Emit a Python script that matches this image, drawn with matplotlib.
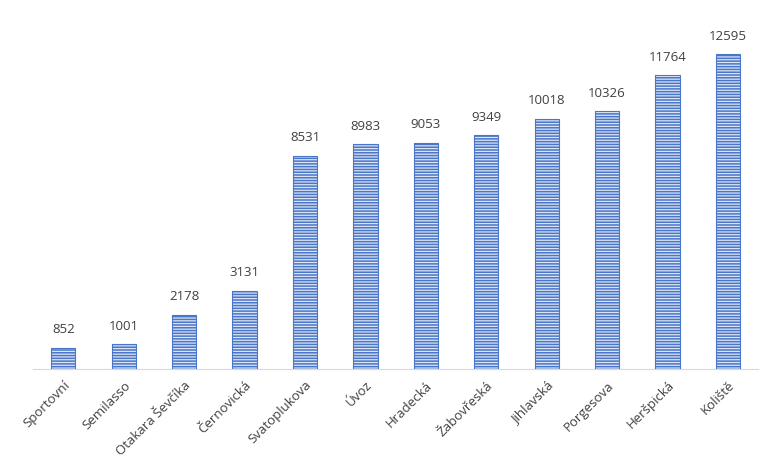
import numpy as np
import matplotlib.pyplot as plt

plt.rcParams['font.family'] = ['Open Sans', 'DejaVu Sans']
plt.rcParams['hatch.linewidth'] = 0.9

streets = ['Sportovní', 'Semilasso', 'Otakara Ševčíka', 'Černovická', 'Svatoplukova',
           'Úvoz', 'Hradecká', 'Žabovřeská', 'Jihlavská', 'Porgesova', 'Heršpická', 'Koliště']
values = [852, 1001, 2178, 3131, 8531, 8983, 9053, 9349, 10018, 10326, 11764, 12595]

blue = '#4a76c8'
x = np.arange(len(streets))

fig = plt.figure(figsize=(7.7, 4.71), dpi=100)
ax = fig.add_axes([0.043, 0.2166, 0.9416, 0.743])

ax.bar(x, values, width=0.4, color=blue, linewidth=0, zorder=2)
ax.bar(x, values, width=0.4, fill=False, edgecolor='#dbe4f6', hatch='------', linewidth=0, zorder=3)
ax.bar(x, values, width=0.4, fill=False, edgecolor=blue, linewidth=0.8, zorder=4)

for xi, v in zip(x, values):
    ax.text(xi, v + 450, str(v), ha='center', va='bottom', fontsize=9.5, color='#404040')

ax.set_xlim(-0.5, len(streets) - 0.5)
ax.set_ylim(0, 14000)
ax.set_xticks(x)
ax.set_xticklabels(streets, rotation=45, ha='right', rotation_mode='anchor', fontsize=9.5, color='#404040')
ax.tick_params(axis='x', length=0, pad=7)
ax.set_yticks([])
for s in ['top', 'right', 'left']:
    ax.spines[s].set_visible(False)
ax.spines['bottom'].set_color('#d9d9d9')

fig.savefig('out.png', dpi=100)
